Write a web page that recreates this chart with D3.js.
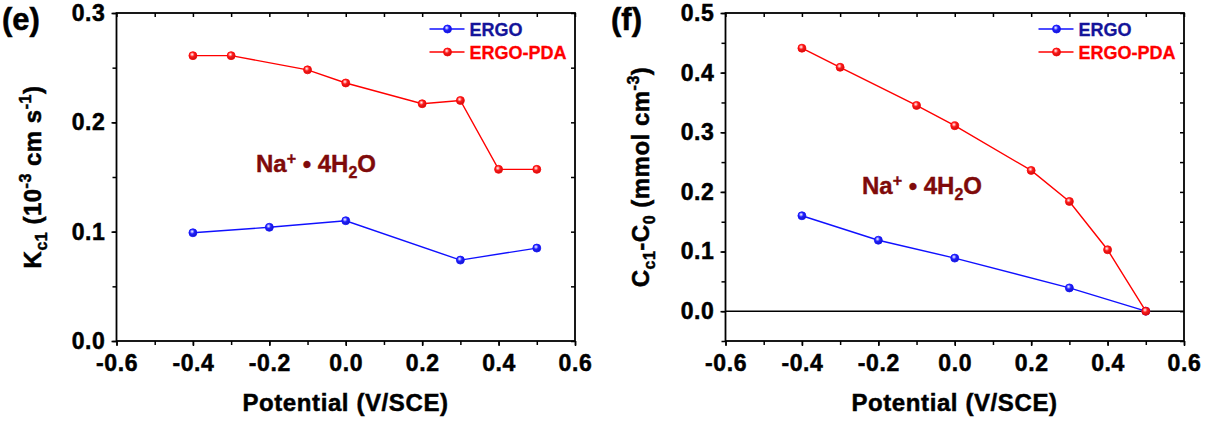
<!DOCTYPE html>
<html><head><meta charset="utf-8">
<script src="https://cdn.jsdelivr.net/npm/d3@7"></script>
<style>
html,body{margin:0;padding:0;background:#fff;overflow:hidden}
svg{display:block;font-family:"Liberation Sans",Arial,sans-serif;font-weight:bold}
</style></head><body>
<script>
// ---- data ----
const kErgoX = [-0.4, -0.2, 0.0, 0.3, 0.5];
const kErgo = [0.099, 0.104, 0.110, 0.074, 0.085];
const kPdaX = [-0.4, -0.3, -0.1, 0.0, 0.2, 0.3, 0.4, 0.5];
const kPda = [0.261, 0.261, 0.248, 0.236, 0.217, 0.220, 0.157, 0.157];
const cErgoX = [-0.4, -0.2, 0.0, 0.3, 0.5];
const cErgo = [0.160, 0.119, 0.089, 0.039, 0.0];
const cPdaX = [-0.4, -0.3, -0.1, 0.0, 0.2, 0.3, 0.4, 0.5];
const cPda = [0.441, 0.409, 0.345, 0.311, 0.236, 0.184, 0.103, 0.0];
const xTicks = [-0.6, -0.4, -0.2, 0.0, 0.2, 0.4, 0.6];
const kTicks = [0.0, 0.1, 0.2, 0.3];
const cTicks = [0.0, 0.1, 0.2, 0.3, 0.4, 0.5];
const seriesNames = ["ERGO", "ERGO-PDA"];

const W = 1213, H = 421;
const svg = d3.select("body").append("svg").attr("width", W).attr("height", H);
const defs = svg.append("defs");
function grad(id, c) {
  const g = defs.append("radialGradient").attr("id", id).attr("cx", "40%").attr("cy", "35%").attr("r", "65%");
  g.append("stop").attr("offset", "0%").attr("stop-color", "#ffffff");
  g.append("stop").attr("offset", "45%").attr("stop-color", c);
  g.append("stop").attr("offset", "100%").attr("stop-color", d3.color(c).darker(0.8));
}
grad("gb", "#2020ff");
grad("gr", "#ff1a1a");
const colors = {blue: "#1010ff", red: "#ff0000"};
const fmt = d => { const s = d3.format(".1f")(d).replace("\u2212", "-"); return s === "-0.0" ? "0.0" : s; };

function panel(opt) {
  const x = d3.scaleLinear().domain([-0.6, 0.6]).range([opt.left, opt.left + 458.5]);
  const y = d3.scaleLinear().domain(opt.ydom).range([341, 13]);
  const g = svg.append("g");
  const xMinor = d3.range(-6, 7).map(d => d / 10);
  const yMinor = d3.range(Math.round(opt.ydom[0] / 0.05), Math.round(opt.ydom[1] / 0.05) + 1).map(d => d * 0.05);
  const styleText = a => a.selectAll("text").attr("font-size", 23).attr("font-weight", "bold").attr("fill", "#000")
    .attr("font-family", "Liberation Sans, Arial").attr("letter-spacing", 0.6)
    .attr("stroke", "#000").attr("stroke-width", 0.5);
  // bottom axis
  g.append("g").attr("transform", `translate(0,341)`)
    .call(d3.axisBottom(x).tickValues(xMinor).tickSize(4).tickFormat(""))
    .call(a => a.select(".domain").remove());
  g.append("g").attr("transform", `translate(0,341)`)
    .call(d3.axisBottom(x).tickValues(xTicks).tickSize(5).tickPadding(9).tickFormat(fmt))
    .call(a => a.select(".domain").remove())
    .call(styleText);
  // top axis (inward)
  g.append("g").attr("transform", `translate(0,13)`)
    .call(d3.axisBottom(x).tickValues(xMinor).tickSize(4).tickFormat(""))
    .call(a => a.select(".domain").remove());
  // left axis
  g.append("g").attr("transform", `translate(${opt.left},0)`)
    .call(d3.axisLeft(y).tickValues(yMinor).tickSize(4).tickFormat(""))
    .call(a => a.select(".domain").remove());
  g.append("g").attr("transform", `translate(${opt.left},0)`)
    .call(d3.axisLeft(y).tickValues(opt.yticks).tickSize(5).tickPadding(6).tickFormat(fmt))
    .call(a => a.select(".domain").remove())
    .call(styleText);
  // right axis (inward)
  g.append("g").attr("transform", `translate(${opt.left + 458.5},0)`)
    .call(d3.axisRight(y).tickValues(yMinor).tickSize(-4).tickFormat(""))
    .call(a => a.select(".domain").remove());
  g.selectAll(".tick line").attr("stroke", "#000").attr("stroke-width", 1.5);
  // frame
  g.append("rect").attr("x", opt.left).attr("y", 13).attr("width", 458.5).attr("height", 328)
    .attr("fill", "none").attr("stroke", "#000").attr("stroke-width", 1.8);
  if (opt.zero) {
    g.append("line").attr("x1", x(-0.6)).attr("x2", x(0.6)).attr("y1", y(0)).attr("y2", y(0))
      .attr("stroke", "#000").attr("stroke-width", 1.6);
  }
  // series
  const line = d3.line().x(d => x(d[0])).y(d => y(d[1]));
  opt.series.forEach(s => {
    const pts = s.xs.map((v, i) => [v, s.ys[i]]);
    g.append("path").datum(pts).attr("d", line).attr("fill", "none").attr("stroke", s.color).attr("stroke-width", 1.4);
    g.selectAll(null).data(pts).enter().append("circle")
      .attr("cx", d => x(d[0])).attr("cy", d => y(d[1])).attr("r", 4)
      .attr("fill", `url(#${s.grad})`).attr("stroke", s.color).attr("stroke-width", 0.8);
  });
  // legend
  const lx = opt.left + 313;
  opt.series.forEach((s, i) => {
    const ly = 29 + i * 23;
    g.append("line").attr("x1", lx).attr("x2", lx + 35).attr("y1", ly).attr("y2", ly).attr("stroke", s.color).attr("stroke-width", 1.4);
    g.append("circle").attr("cx", lx + 18).attr("cy", ly).attr("r", 4).attr("fill", `url(#${s.grad})`).attr("stroke", s.color).attr("stroke-width", 0.8);
    g.append("text").attr("x", lx + 40).attr("y", ly + 6.5).attr("font-size", 18).attr("fill", s.textColor)
      .attr("stroke", s.textColor).attr("stroke-width", 0.3).text(s.name);
  });
  // annotation
  const t = g.append("text").attr("x", opt.annX).attr("y", opt.annY).attr("font-size", 24).attr("fill", "#7f0a0a")
    .attr("stroke", "#7f0a0a").attr("stroke-width", 0.4);
  t.append("tspan").text("Na");
  t.append("tspan").attr("dy", -8).attr("font-size", 16).text("+");
  t.append("tspan").attr("dy", 8).text(" \u2022 4H");
  t.append("tspan").attr("dy", 6).attr("font-size", 16).text("2");
  t.append("tspan").attr("dy", -6).text("O");
  // y title
  const yt = g.append("text").attr("transform", `translate(${opt.ytx},177) rotate(-90)`)
    .attr("text-anchor", "middle").attr("font-size", 24).attr("fill", "#000").attr("letter-spacing", 0.5)
    .attr("stroke", "#000").attr("stroke-width", 0.5);
  opt.ytitle(yt);
  // x title
  g.append("text").attr("x", opt.left + 229).attr("y", 411).attr("text-anchor", "middle")
    .attr("font-size", 24).attr("fill", "#000").attr("letter-spacing", 0.6)
    .attr("stroke", "#000").attr("stroke-width", 0.5).text("Potential (V/SCE)");
  // panel label
  g.append("text").attr("x", opt.labX).attr("y", 30).attr("font-size", 31).attr("fill", "#000")
    .attr("stroke", "#000").attr("stroke-width", 0.5).text(opt.label);
}

panel({
  left: 116.5, ydom: [0, 0.3], yticks: kTicks, zero: false,
  series: [
    {name: seriesNames[0], xs: kErgoX, ys: kErgo, color: colors.blue, grad: "gb", textColor: "#14149a"},
    {name: seriesNames[1], xs: kPdaX, ys: kPda, color: colors.red, grad: "gr", textColor: "#ff0000"}
  ],
  annX: 256, annY: 172, ytx: 41, labX: 2, label: "(e)",
  ytitle: t => {
    t.append("tspan").text("K");
    t.append("tspan").attr("dy", 6).attr("font-size", 16).text("c1");
    t.append("tspan").attr("dy", -6).text(" (10");
    t.append("tspan").attr("dy", -10).attr("font-size", 16).text("-3");
    t.append("tspan").attr("dy", 10).text(" cm s");
    t.append("tspan").attr("dy", -10).attr("font-size", 16).text("-1");
    t.append("tspan").attr("dy", 10).text(")");
  }
});
panel({
  left: 725.5, ydom: [-0.05, 0.5], yticks: cTicks, zero: true,
  series: [
    {name: seriesNames[0], xs: cErgoX, ys: cErgo, color: colors.blue, grad: "gb", textColor: "#14149a"},
    {name: seriesNames[1], xs: cPdaX, ys: cPda, color: colors.red, grad: "gr", textColor: "#ff0000"}
  ],
  annX: 862, annY: 194, ytx: 649, labX: 611, label: "(f)",
  ytitle: t => {
    t.append("tspan").text("C");
    t.append("tspan").attr("dy", 6).attr("font-size", 16).text("c1");
    t.append("tspan").attr("dy", -6).text("-C");
    t.append("tspan").attr("dy", 6).attr("font-size", 16).text("0");
    t.append("tspan").attr("dy", -6).text(" (mmol cm");
    t.append("tspan").attr("dy", -10).attr("font-size", 16).text("-3");
    t.append("tspan").attr("dy", 10).text(")");
  }
});
</script>
</body></html>
